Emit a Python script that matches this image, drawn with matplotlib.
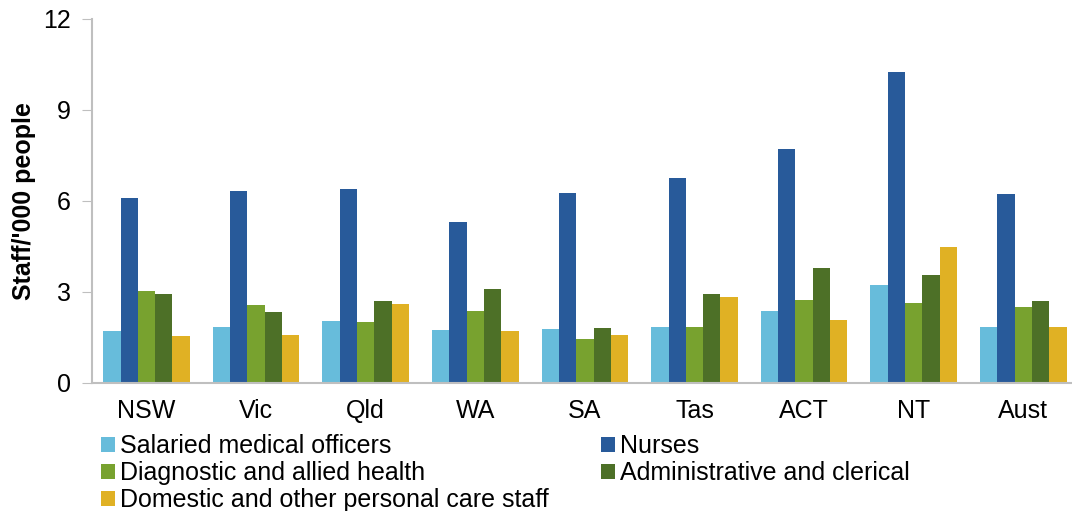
import numpy as np
import matplotlib
matplotlib.use("Agg")
import matplotlib.pyplot as plt
from matplotlib.patches import Patch

plt.rcParams['font.family'] = ['Liberation Sans', 'DejaVu Sans']

states = ['NSW', 'Vic', 'Qld', 'WA', 'SA', 'Tas', 'ACT', 'NT', 'Aust']
medical = [1.70, 1.84, 2.04, 1.75, 1.77, 1.85, 2.38, 3.21, 1.85]
nurses = [6.10, 6.31, 6.39, 5.29, 6.27, 6.75, 7.71, 10.24, 6.23]
diagnostic = [3.01, 2.57, 2.00, 2.35, 1.43, 1.83, 2.73, 2.63, 2.49]
admin = [2.91, 2.33, 2.70, 3.08, 1.81, 2.93, 3.79, 3.56, 2.69]
domestic = [1.55, 1.57, 2.59, 1.70, 1.57, 2.81, 2.07, 4.48, 1.85]

names = ['Salaried medical officers', 'Nurses', 'Diagnostic and allied health',
         'Administrative and clerical', 'Domestic and other personal care staff']
colors = ['#67BCDB', '#285A9A', '#78A22F', '#4D7027', '#E0B124']
series = [medical, nurses, diagnostic, admin, domestic]

fig = plt.figure(figsize=(10.72, 5.11), dpi=100)
ax = fig.add_axes([91.7 / 1072, 128.3 / 511, 1 - 91.7 / 1072, 364 / 511])

x = np.arange(len(states))
w = 0.158
for i, (vals, c) in enumerate(zip(series, colors)):
    ax.bar(x + (i - 2) * w, vals, width=w, color=c, linewidth=0)

ax.set_xlim(-0.5, 8.444)
ax.set_ylim(0, 12)
ax.set_yticks([0, 3, 6, 9, 12])
ax.set_xticks(x)
ax.set_xticklabels(states)
ax.tick_params(axis='x', length=0, labelsize=18, pad=12)
ax.tick_params(axis='y', length=7, color='#BFBFBF', labelsize=18, pad=8)
for s in ['top', 'right']:
    ax.spines[s].set_visible(False)
for s in ['left', 'bottom']:
    ax.spines[s].set_color('#BFBFBF')
    ax.spines[s].set_linewidth(1.5)
ax.set_ylabel("Staff/'000 people", fontsize=18, fontweight='bold', labelpad=5)

order = [0, 2, 4, 1, 3]
handles = [Patch(facecolor=colors[k], edgecolor='none') for k in order]
labels = [names[k] for k in order]
fig.legend(handles, labels, ncol=2, loc='upper left',
           bbox_to_anchor=(101 / 1072, 1 - 434 / 511), frameon=False,
           fontsize=18, handlelength=0.56, handleheight=0.56,
           handletextpad=0.2, labelspacing=0.12, columnspacing=2.1,
           borderaxespad=0, borderpad=0)

fig.savefig('out.png', dpi=100)
